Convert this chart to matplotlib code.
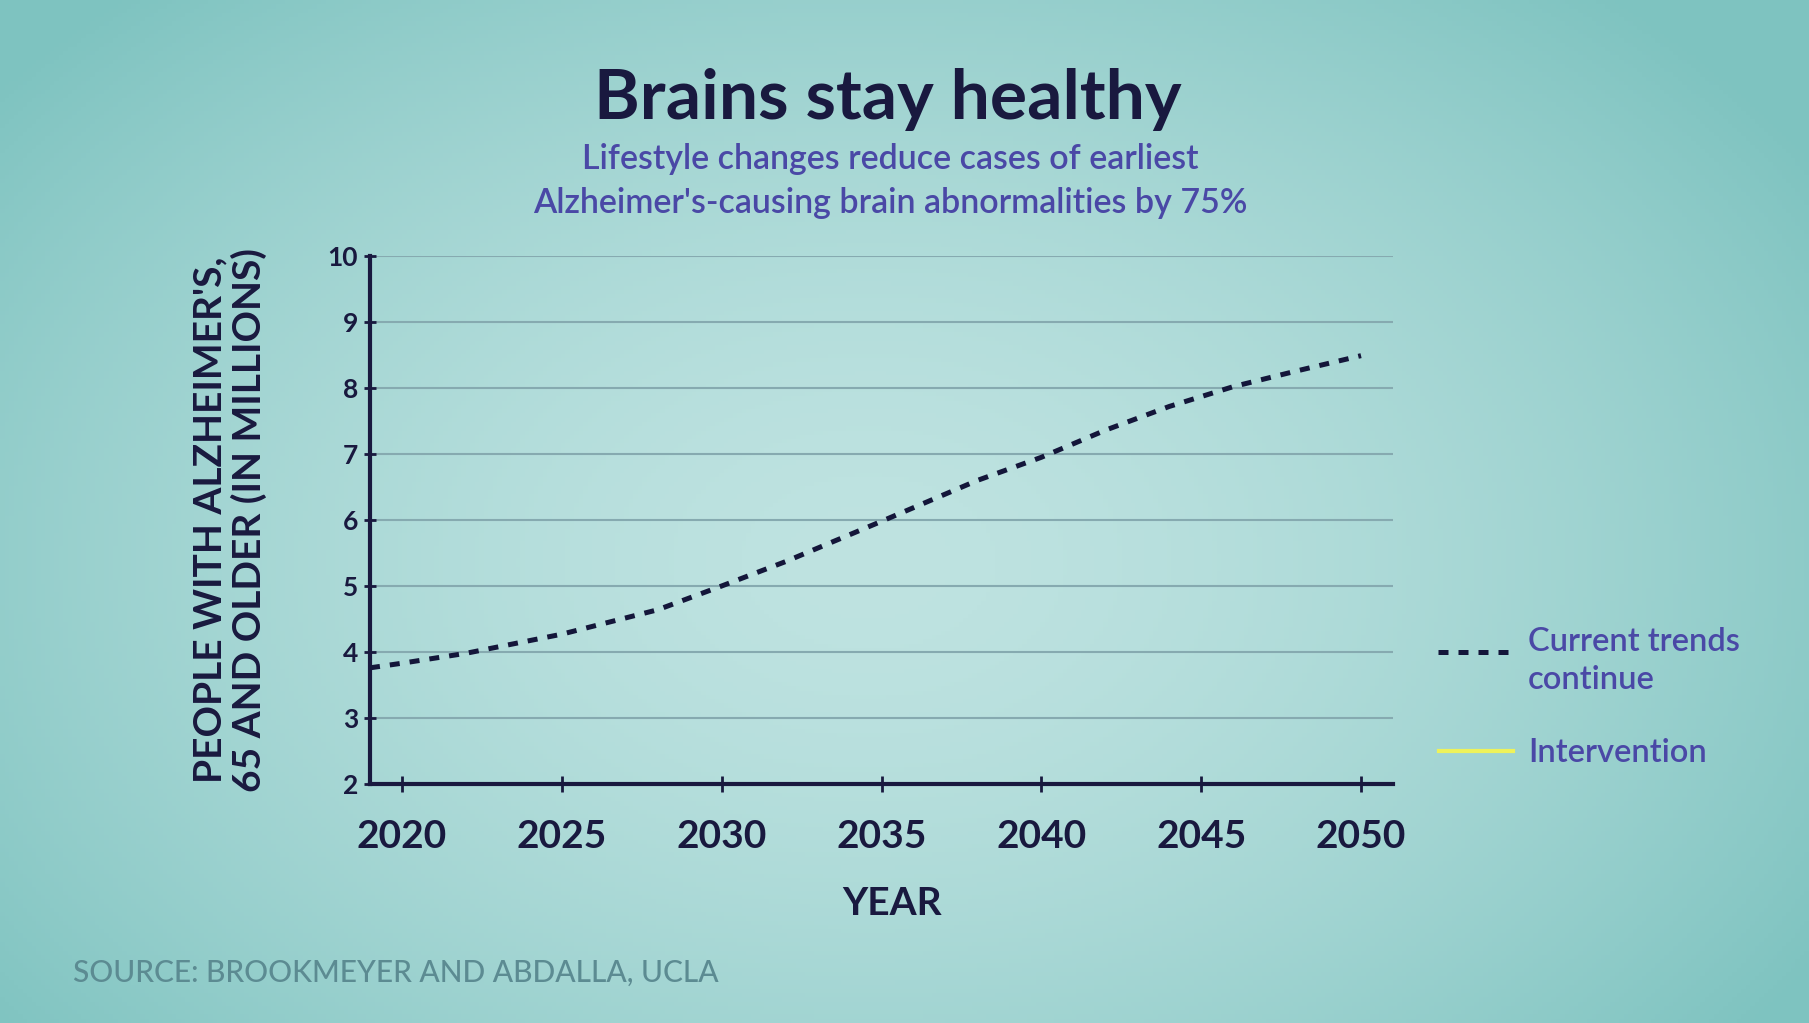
import matplotlib

matplotlib.use("Agg")
import matplotlib.pyplot as plt
import numpy as np
from matplotlib.lines import Line2D

# Data
YEARS = [2019, 2020, 2022, 2025, 2028, 2030, 2032, 2035, 2038, 2040, 2042, 2044, 2046, 2048, 2050]
CURRENT_TRENDS = [3.76, 3.83, 3.98, 4.27, 4.64, 5.0, 5.37, 5.98, 6.60, 6.95, 7.36, 7.72, 8.02, 8.26, 8.49]
X_TICKS = [2020, 2025, 2030, 2035, 2040, 2045, 2050]
Y_TICKS = [2, 3, 4, 5, 6, 7, 8, 9, 10]

TITLE = "Brains stay healthy"
SUBTITLE = "Lifestyle changes reduce cases of earliest\nAlzheimer's-causing brain abnormalities by 75%"
Y_LABEL = "PEOPLE WITH ALZHEIMER'S,\n65 AND OLDER (IN MILLIONS)"
X_LABEL = "YEAR"
SOURCE = "SOURCE: BROOKMEYER AND ABDALLA, UCLA"
LEGEND_LABELS = ["Current trends\ncontinue", "Intervention"]

NAVY = "#19193f"
LINE_NAVY = "#14163a"
PURPLE = "#4a48a6"
GRID = "#86aab0"
SOURCE_GREY = "#5c8b92"
YELLOW = "#eef25a"

DASHES = (0, (2, 2))

plt.rcParams["font.family"] = ["Lato", "DejaVu Sans"]

W, H = 1809, 1023
fig = plt.figure(figsize=(W / 100, H / 100), dpi=100)

# teal backdrop, lighter towards the middle
bg = fig.add_axes([0, 0, 1, 1], zorder=-10)
gx, gy = np.meshgrid(np.linspace(0, 1, 400), np.linspace(1, 0, 240))
r = np.sqrt(((gx - 0.48) / 0.62) ** 2 + ((gy - 0.45) / 0.75) ** 2)
t = np.clip(r, 0, 1) ** 1.6
light = np.array([0xBF, 0xE3, 0xE1]) / 255
dark = np.array([0x7E, 0xC3, 0xC0]) / 255
grad = light[None, None, :] * (1 - t[..., None]) + dark[None, None, :] * t[..., None]
bg.imshow(grad, extent=[0, 1, 0, 1], aspect="auto")
bg.axis("off")

ax = fig.add_axes([370 / W, 1 - 784 / H, (1393 - 370) / W, (784 - 256) / H])
ax.patch.set_alpha(0)

ax.plot(
    YEARS,
    CURRENT_TRENDS,
    color=LINE_NAVY,
    lw=3.6,
    ls=DASHES,
    dash_capstyle="butt",
    zorder=3,
)
# the intervention series is not drawn yet in this frame, only its key

ax.set_xlim(2019, 2051)
ax.set_ylim(2, 10)
ax.set_xticks(X_TICKS)
ax.set_yticks(Y_TICKS)

for side in ("top", "right"):
    ax.spines[side].set_visible(False)
for side in ("left", "bottom"):
    ax.spines[side].set_color(NAVY)
    ax.spines[side].set_linewidth(3)

ax.yaxis.grid(True, color=GRID, lw=1.5)
ax.set_axisbelow(True)

ax.tick_params(axis="y", direction="inout", length=9, width=2, color=NAVY, pad=4,
               labelsize=19, labelcolor=NAVY)
ax.tick_params(axis="x", direction="inout", length=11, width=2, color=NAVY, pad=20,
               labelsize=28, labelcolor=NAVY)
for lab in ax.get_xticklabels() + ax.get_yticklabels():
    lab.set_fontweight("bold")

ax.set_xlabel(X_LABEL, fontsize=28, fontweight="bold", color=NAVY)
ax.xaxis.set_label_coords(0.51, -0.193)
ax.set_ylabel(Y_LABEL, fontsize=28, fontweight="bold", color=NAVY, linespacing=1.1)
ax.yaxis.set_label_coords(-0.101, 0.5)

fig.text(888 / W, 1 - 119 / H, TITLE, ha="center", va="baseline",
         fontsize=50, fontweight="bold", color=NAVY)
fig.text(890 / W, 1 - 181 / H, SUBTITLE, ha="center", va="center",
         fontsize=24.5, fontweight="semibold", color=PURPLE, linespacing=1.45)
fig.text(73 / W, 1 - 973 / H, SOURCE, ha="left", va="center",
         fontsize=21.5, fontweight="medium", color=SOURCE_GREY)

# legend keys, drawn beside the plot
fig.add_artist(Line2D([1438 / W, 1508 / W], [1 - 652 / H] * 2, transform=fig.transFigure,
                      color=LINE_NAVY, lw=3.6, ls=DASHES, dash_capstyle="butt"))
fig.add_artist(Line2D([1439 / W, 1513 / W], [1 - 751 / H] * 2, transform=fig.transFigure,
                      color=YELLOW, lw=3.0))
fig.text(1528 / W, 1 - 661 / H, LEGEND_LABELS[0], ha="left", va="center",
         fontsize=23.5, fontweight="semibold", color=PURPLE, linespacing=1.35)
fig.text(1528 / W, 1 - 753 / H, LEGEND_LABELS[1], ha="left", va="center",
         fontsize=23.5, fontweight="semibold", color=PURPLE)

fig.savefig("out.png", dpi=100)
